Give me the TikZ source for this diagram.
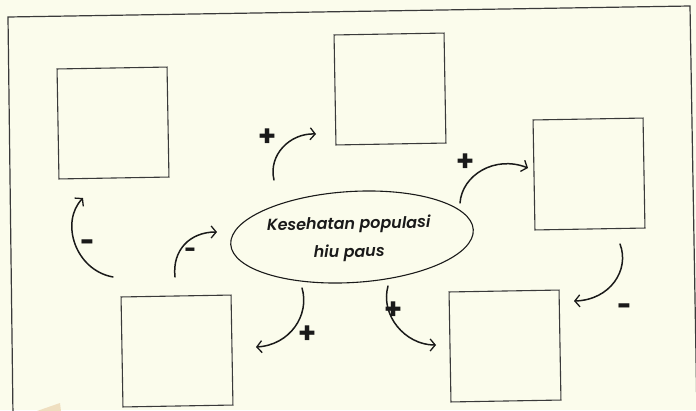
\documentclass[tikz,border=0pt]{standalone}
\usepackage{fontspec}
\setmainfont{Poppins}[ItalicFont={Poppins SemiBold Italic}]
\newfontfamily\signfont{Fira Sans}
\usetikzlibrary{arrows.meta,shapes.geometric}
\definecolor{paper}{HTML}{FBFCEC}
\definecolor{ink}{HTML}{1A1A1A}
\definecolor{boxline}{HTML}{3A3A3A}
\definecolor{tape}{HTML}{EFDFC0}
\begin{document}
\begin{tikzpicture}[x=1pt,y=-1pt,
  blank/.style={draw=boxline, line width=1.1pt, minimum width=110pt,
    minimum height=110pt, inner sep=0pt, rotate=1},
  topic/.style={draw=ink, line width=1.1pt, ellipse, minimum width=243pt,
    minimum height=91pt, inner sep=0pt, rotate=3.5},
  topictext/.style={font=\itshape\fontsize{16}{28}\selectfont, align=center,
    text=ink, inner sep=0pt, rotate=1},
  link/.style={draw=ink, line width=1.5pt, line cap=round,
    -{Straight Barb[length=5pt,width=12pt,line width=1.3pt]}},
  sign/.style={font=\signfont\bfseries\fontsize{34}{34}\selectfont,
    inner sep=0pt, text=ink},
  dashsign/.style={sign, anchor=north},
]
\useasboundingbox (0,0) rectangle (696,410);
\fill[paper] (0,0) rectangle (696,410);
\clip (0,0) rectangle (696,410);

% sheet outline and a scrap of tape in the corner
\draw[boxline, line width=1.2pt] (13,416) -- (8,17) -- (690,6) -- (697,416);
\fill[tape] (37,411) -- (60,403) -- (61,411) -- cycle;

% empty answer boxes
\node[blank] (b1) at (113,123) {};
\node[blank] (b2) at (390,89) {};
\node[blank] (b3) at (589,174) {};
\node[blank] (b4) at (177,351) {};
\node[blank] (b5) at (505,346) {};

% central topic
\node[topic] (hub) at (352,237) {};
\node[topictext] (hubtext) at (349,239) {Kesehatan populasi\\hiu paus};

% loose ends of the feedback arrows
\coordinate (a1s) at (113,277); \coordinate (a1e) at (83,198);
\coordinate (a2s) at (175,277); \coordinate (a2e) at (217,232);
\coordinate (a3s) at (274,180); \coordinate (a3e) at (316,134);
\coordinate (a4s) at (460,203); \coordinate (a4e) at (528,168);
\coordinate (a5s) at (620,244); \coordinate (a5e) at (574,301);
\coordinate (a6s) at (302,288); \coordinate (a6e) at (256,347);
\coordinate (a7s) at (388,286); \coordinate (a7e) at (436,345);

\draw[link] (a1s) .. controls (75,270) and (60,222) .. (a1e);
\draw[link] (a2s) .. controls (172,250) and (190,232) .. (a2e);
\draw[link] (a3s) .. controls (268,155) and (290,133) .. (a3e);
\draw[link] (a4s) .. controls (462,175) and (495,155) .. (a4e);
\draw[link] (a5s) .. controls (630,270) and (610,300) .. (a5e);
\draw[link] (a6s) .. controls (310,315) and (290,345) .. (a6e);
\draw[link] (a7s) .. controls (380,315) and (405,345) .. (a7e);

% polarity marks
\node[dashsign] (m1) at (87,240) {-};
\node[dashsign, font=\signfont\bfseries\fontsize{28}{28}\selectfont] (m2) at (190,248) {-};
\node[sign] (m3) at (268,138) {+};
\node[sign] (m4) at (466,163) {+};
\node[dashsign] (m5) at (624,304) {-};
\node[sign] (m6) at (308,335) {+};
\node[sign] (m7) at (394,311) {+};
\end{tikzpicture}
\end{document}
